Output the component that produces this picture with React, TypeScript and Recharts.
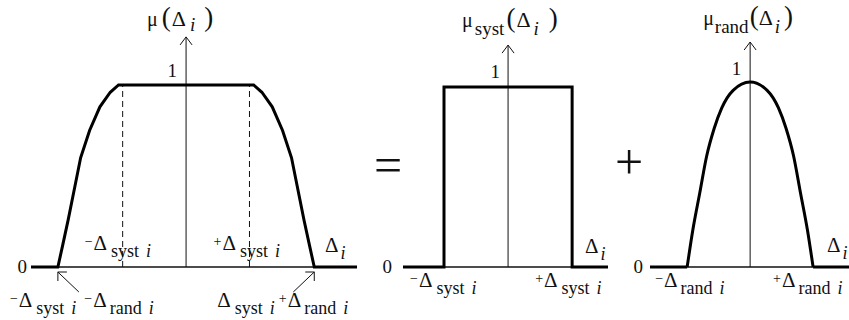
import React from "react";
import { Line, LineChart, ReferenceDot, ReferenceLine, XAxis, YAxis } from "recharts";

const FONT = "Liberation Serif, Times New Roman, serif";

// total membership mu(Δi), Δ in units of Δsyst
const totalCurve = [
  { d: -2.25, mu: 0 },
  { d: -1.86, mu: 0 },
  { d: -1.79, mu: 0.12 },
  { d: -1.71, mu: 0.26 },
  { d: -1.62, mu: 0.43 },
  { d: -1.53, mu: 0.6 },
  { d: -1.4, mu: 0.75 },
  { d: -1.25, mu: 0.88 },
  { d: -1.1, mu: 0.96 },
  { d: -0.98, mu: 1 },
  { d: 0.98, mu: 1 },
  { d: 1.1, mu: 0.96 },
  { d: 1.25, mu: 0.88 },
  { d: 1.4, mu: 0.75 },
  { d: 1.53, mu: 0.6 },
  { d: 1.62, mu: 0.43 },
  { d: 1.71, mu: 0.26 },
  { d: 1.79, mu: 0.12 },
  { d: 1.86, mu: 0 },
  { d: 2.48, mu: 0 },
];

// systematic part, rectangle of half-width Δsyst
const systCurve = [
  { d: -1.64, mu: 0 },
  { d: -1, mu: 0 },
  { d: -1, mu: 1 },
  { d: 1, mu: 1 },
  { d: 1, mu: 0 },
  { d: 1.56, mu: 0 },
];

// random part, Δ in units of Δrand
const randArch = [
  { d: -1, mu: 0 },
  { d: -0.91, mu: 0.2 },
  { d: -0.8, mu: 0.4 },
  { d: -0.69, mu: 0.6 },
  { d: -0.57, mu: 0.75 },
  { d: -0.45, mu: 0.86 },
  { d: -0.27, mu: 0.955 },
  { d: 0, mu: 1 },
  { d: 0.27, mu: 0.955 },
  { d: 0.45, mu: 0.86 },
  { d: 0.57, mu: 0.75 },
  { d: 0.69, mu: 0.6 },
  { d: 0.8, mu: 0.4 },
  { d: 0.91, mu: 0.2 },
  { d: 1, mu: 0 },
];
const randTails = [
  { d: -1.59, mu: 0 },
  { d: -1, mu: 0 },
  { d: 0, mu: null },
  { d: 1, mu: 0 },
  { d: 1.57, mu: 0 },
];

const dashedAt = [-0.92, 0.92];

type Seg = { t: string; k?: "sub" | "sup" | "big" | "delta"; it?: boolean; g?: number };

const DELTA: Seg = { t: "Δ", k: "delta", g: 1 };
const T_TOTAL: Seg[] = [{ t: "μ" }, { t: "(", k: "big", g: 4 }, DELTA, { t: "i", k: "sub", it: true, g: 4 }, { t: ")", k: "big", g: 9 }];
const T_SYST: Seg[] = [{ t: "μ" }, { t: "syst", k: "sub", g: 2 }, { t: "(", k: "big", g: 2 }, DELTA, { t: "i", k: "sub", it: true, g: 3 }, { t: ")", k: "big", g: 10 }];
const T_RAND: Seg[] = [{ t: "μ" }, { t: "rand", k: "sub", g: 1 }, { t: "(", k: "big", g: 1 }, { t: "Δ", k: "delta" }, { t: "i", k: "sub", it: true, g: 2 }, { t: ")", k: "big", g: 4 }];
const D_I: Seg[] = [{ t: "Δ", k: "delta" }, { t: "i", k: "sub", it: true, g: 2 }];
const NEG_SYST: Seg[] = [{ t: "−", k: "sup" }, DELTA, { t: "syst", k: "sub", g: 4 }, { t: "i", k: "sub", it: true, g: 7 }];
const POS_SYST: Seg[] = [{ t: "+", k: "sup" }, DELTA, { t: "syst", k: "sub", g: 4 }, { t: "i", k: "sub", it: true, g: 7 }];
const NEG_RAND: Seg[] = [{ t: "−", k: "sup" }, DELTA, { t: "rand", k: "sub", g: 3 }, { t: "i", k: "sub", it: true, g: 7 }];
const POS_RAND: Seg[] = [{ t: "+", k: "sup" }, DELTA, { t: "rand", k: "sub", g: 3 }, { t: "i", k: "sub", it: true, g: 7 }];
const LOW_END: Seg[] = [...NEG_SYST, { t: "−", k: "sup", g: 8 }, DELTA, { t: "rand", k: "sub", g: 3 }, { t: "i", k: "sub", it: true, g: 7 }];
const HIGH_END: Seg[] = [{ t: "Δ", k: "delta" }, { t: "syst", k: "sub", g: 4 }, { t: "i", k: "sub", it: true, g: 7 }, { t: "+", k: "sup", g: 4 }, DELTA, { t: "rand", k: "sub", g: 3 }, { t: "i", k: "sub", it: true, g: 7 }];

function MathText({ x, y, segs, size = 19, sub = 7, anchor = "start" }: { x: number; y: number; segs: Seg[]; size?: number; sub?: number; anchor?: string }) {
  const shift = { base: 0, sub, sup: -4, big: 0, delta: 0 };
  const fs = { base: size, sub: size - 1, sup: 14, big: 27, delta: size + 2 };
  let prev = 0;
  return (
    <text x={x} y={y} textAnchor={anchor} fontFamily={FONT} style={{ fontFamily: FONT, fontSize: size }} fill="#111">
      {segs.map((s, i) => {
        const k = s.k ?? "base";
        const dy = shift[k] - prev;
        prev = shift[k];
        return (
          <tspan key={i} dx={s.g ?? 0} dy={dy} style={{ fontSize: fs[k], fontStyle: s.it ? "italic" : "normal" }}>
            {s.t}
          </tspan>
        );
      })}
    </text>
  );
}

function label(key: string, d: number, mu: number, dx: number, dy: number, segs: Seg[], opts: any = {}) {
  return (
    <ReferenceDot
      key={key}
      x={d}
      y={mu}
      r={1}
      ifOverflow="visible"
      shape={(p: any) => <MathText x={p.cx + dx} y={p.cy + dy} segs={segs} {...opts} />}
    />
  );
}

function arrowHead(key: string, top: number) {
  return (
    <ReferenceDot
      key={key}
      x={0}
      y={top}
      r={1}
      ifOverflow="visible"
      shape={(p: any) => (
        <path d={`M${p.cx - 6},${p.cy + 8} L${p.cx},${p.cy} L${p.cx + 6},${p.cy + 8}`} fill="none" stroke="#111" strokeWidth={1} />
      )}
    />
  );
}

// small pointer from a label to the foot of the curve
function pointer(key: string, d: number, side: number) {
  return (
    <ReferenceDot
      key={key}
      x={d}
      y={0}
      r={1}
      ifOverflow="visible"
      shape={(p: any) => {
        const x = p.cx;
        const y = p.cy + 5;
        return (
          <path
            d={`M${x},${y} L${x + side * 21},${y + 20} M${x + side * 9},${y} L${x},${y} L${x},${y + 9}`}
            fill="none"
            stroke="#111"
            strokeWidth={1}
          />
        );
      }}
    />
  );
}

type Series = { data: { d: number; mu: number | null }[]; curve: any };

function Panel({
  series,
  xDomain,
  yMax,
  top,
  left,
  width,
  margin,
  children,
}: {
  series: Series[];
  xDomain: [number, number];
  yMax: number;
  top: number;
  left: number;
  width: number;
  margin: { top: number; right: number; bottom: number; left: number };
  children?: React.ReactNode;
}) {
  return (
    <div style={{ position: "absolute", left, top: 0 }}>
      <LineChart width={width} height={320} margin={margin}>
        <XAxis type="number" dataKey="d" domain={xDomain} hide />
        <YAxis type="number" domain={[0, yMax]} hide />
        <ReferenceLine y={0} stroke="#111" strokeWidth={1.5} ifOverflow="visible" />
        <ReferenceLine
          segment={[
            { x: 0, y: 0 },
            { x: 0, y: top },
          ]}
          stroke="#111"
          strokeWidth={1}
          ifOverflow="visible"
        />
        {arrowHead("arrow", top)}
        {children}
        {series.map((s, i) => (
          <Line
            key={"s" + i}
            data={s.data}
            type={s.curve}
            dataKey="mu"
            stroke="#000"
            strokeWidth={3}
            dot={false}
            activeDot={false}
            isAnimationActive={false}
          />
        ))}
      </LineChart>
    </div>
  );
}

export default function App() {
  const TOP1 = 1.264;
  const TOP2 = 1.233;
  const TOP3 = 1.216;
  return (
    <div style={{ position: "absolute", left: 0, top: 0, width: 849, height: 320, background: "#fff", overflow: "hidden" }}>
      <Panel
        series={[{ data: totalCurve, curve: "linear" }]}
        xDomain={[-2.25, 2.48]}
        yMax={1.302}
        top={TOP1}
        left={0}
        width={372}
        margin={{ top: 30, right: 15, bottom: 53, left: 31 }}
      >
        {dashedAt.map((d) => (
          <ReferenceLine
            key={"dash" + d}
            segment={[
              { x: d, y: 0 },
              { x: d, y: 1 },
            ]}
            stroke="#111"
            strokeWidth={1}
            strokeDasharray="6 4"
            ifOverflow="visible"
          />
        ))}
        {label("t1", 0, TOP1, -39, -11, T_TOTAL, { size: 20, sub: 5 })}
        {label("one1", 0, 1, -9, -8, [{ t: "1" }], { anchor: "end" })}
        {label("zero1", -2.25, 0, -4, 6, [{ t: "0" }], { anchor: "end" })}
        {label("di1", 2.48, 0, -32, -15, D_I)}
        {label("ns1", -0.92, 0, -38, -17, NEG_SYST)}
        {label("ps1", 0.92, 0, -36, -17, POS_SYST)}
        {label("lo1", -1.86, 0, -48, 40, LOW_END)}
        {label("hi1", 1.86, 0, -97, 40, HIGH_END)}
        {pointer("pl", -1.86, 1)}
        {pointer("pr", 1.86, -1)}
      </Panel>
      <Panel
        series={[{ data: systCurve, curve: "linear" }]}
        xDomain={[-1.64, 1.56]}
        yMax={1.317}
        top={TOP2}
        left={372}
        width={250}
        margin={{ top: 30, right: 14, bottom: 53, left: 31 }}
      >
        {label("eq", -1.64, 0, -15, -85, [{ t: "=" }], { size: 50, anchor: "middle" })}
        {label("t2", 0, TOP2, -46, -18, T_SYST, { size: 20, sub: 8 })}
        {label("one2", 0, 1, -8, -9, [{ t: "1" }], { anchor: "end" })}
        {label("zero2", -1.64, 0, -11, 6, [{ t: "0" }], { anchor: "end" })}
        {label("di2", 1.56, 0, -23, -14, D_I)}
        {label("ns2", -1, 0, -34, 20, NEG_SYST)}
        {label("ps2", 1, 0, -37, 20, POS_SYST)}
      </Panel>
      <Panel
        series={[
          { data: randTails, curve: "linear" },
          { data: randArch, curve: "monotoneX" },
        ]}
        xDomain={[-1.59, 1.57]}
        yMax={1.281}
        top={TOP3}
        left={605}
        width={244}
        margin={{ top: 30, right: 0, bottom: 53, left: 45 }}
      >
        {label("plus", -1.59, 0, -21, -88, [{ t: "+" }], { size: 50, anchor: "middle" })}
        {label("t3", 0, TOP3, -47, -17, T_RAND, { size: 20, sub: 8 })}
        {label("one3", 0, 1, -9, -7, [{ t: "1" }], { anchor: "end" })}
        {label("zero3", -1.59, 0, -7, 6, [{ t: "0" }], { anchor: "end" })}
        {label("di3", 1.57, 0, -22, -15, D_I)}
        {label("nr3", -1, 0, -32, 20, NEG_RAND)}
        {label("pr3", 1, 0, -40, 20, POS_RAND)}
      </Panel>
    </div>
  );
}
